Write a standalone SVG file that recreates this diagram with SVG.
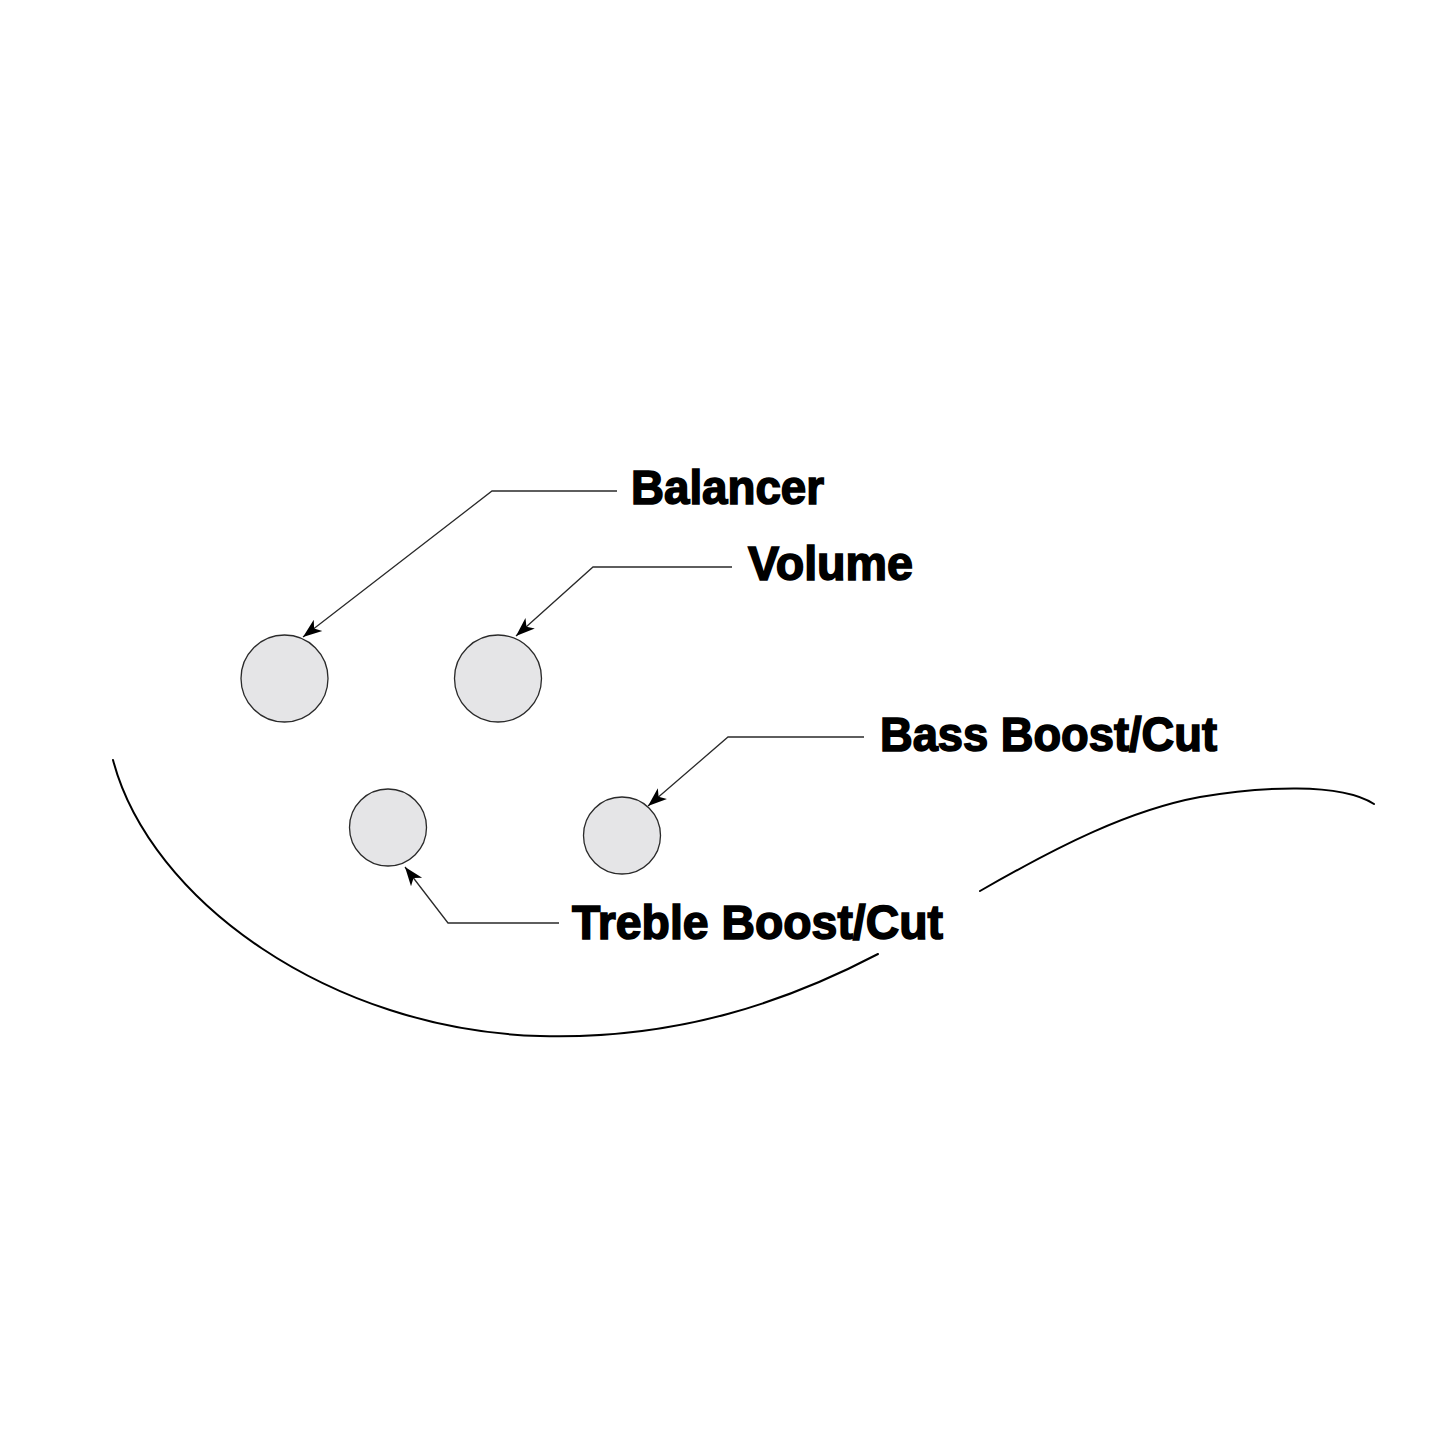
<svg xmlns="http://www.w3.org/2000/svg" width="1445" height="1445" viewBox="0 0 1445 1445">
  <style>
    .knob { fill: #e5e5e7; stroke: #2a2a2a; stroke-width: 1.3; }
    .leader { fill: none; stroke: #2a2a2a; stroke-width: 1.3; }
    .body { fill: none; stroke: #000; stroke-width: 2; stroke-linecap: round; }
    .label { font-family: "Liberation Sans", Arial, sans-serif; font-weight: bold; font-size: 48px; fill: #000; stroke: #000; stroke-width: 1.6; }
  </style>
  <defs>
    <marker id="arrow" markerUnits="userSpaceOnUse" markerWidth="24" markerHeight="18" viewBox="0 -9 24 18" refX="19" refY="0" orient="auto">
      <path d="M0,-7 L19,0 L0,7 L5,0 z" fill="#000"/>
    </marker>
  </defs>
  <rect width="1445" height="1445" fill="#fff"/>

  <g id="body-outline">
    <path class="body" d="M113,760 C150,900 330,1030 540,1036 C680,1040 790,1000 878,954"/>
    <path class="body" d="M980,891 C1060,845 1130,810 1200,797 C1260,787 1340,782 1374,804"/>
  </g>

  <g id="knob-balancer"><circle class="knob" cx="284.5" cy="678.5" r="43.5"/></g>
  <g id="knob-volume"><circle class="knob" cx="498" cy="678.5" r="43.5"/></g>
  <g id="knob-treble"><circle class="knob" cx="388" cy="827.5" r="38.5"/></g>
  <g id="knob-bass"><circle class="knob" cx="622" cy="835.5" r="38.5"/></g>

  <g id="connectors">
    <polyline class="leader" points="617,491 492,491 303,637" marker-end="url(#arrow)"/>
    <polyline class="leader" points="732,567 593,567 516,636" marker-end="url(#arrow)"/>
    <polyline class="leader" points="864,737 728,737 648,806" marker-end="url(#arrow)"/>
    <polyline class="leader" points="559,923 448,923 405,867" marker-end="url(#arrow)"/>
  </g>

  <g id="label-balancer"><text class="label" x="631" y="504" textLength="193" lengthAdjust="spacingAndGlyphs">Balancer</text></g>
  <g id="label-volume"><text class="label" x="748" y="580" textLength="165" lengthAdjust="spacingAndGlyphs">Volume</text></g>
  <g id="label-bass"><text class="label" x="880" y="751" textLength="337" lengthAdjust="spacingAndGlyphs">Bass Boost/Cut</text></g>
  <g id="label-treble"><text class="label" x="572" y="939" textLength="371" lengthAdjust="spacingAndGlyphs">Treble Boost/Cut</text></g>
</svg>
